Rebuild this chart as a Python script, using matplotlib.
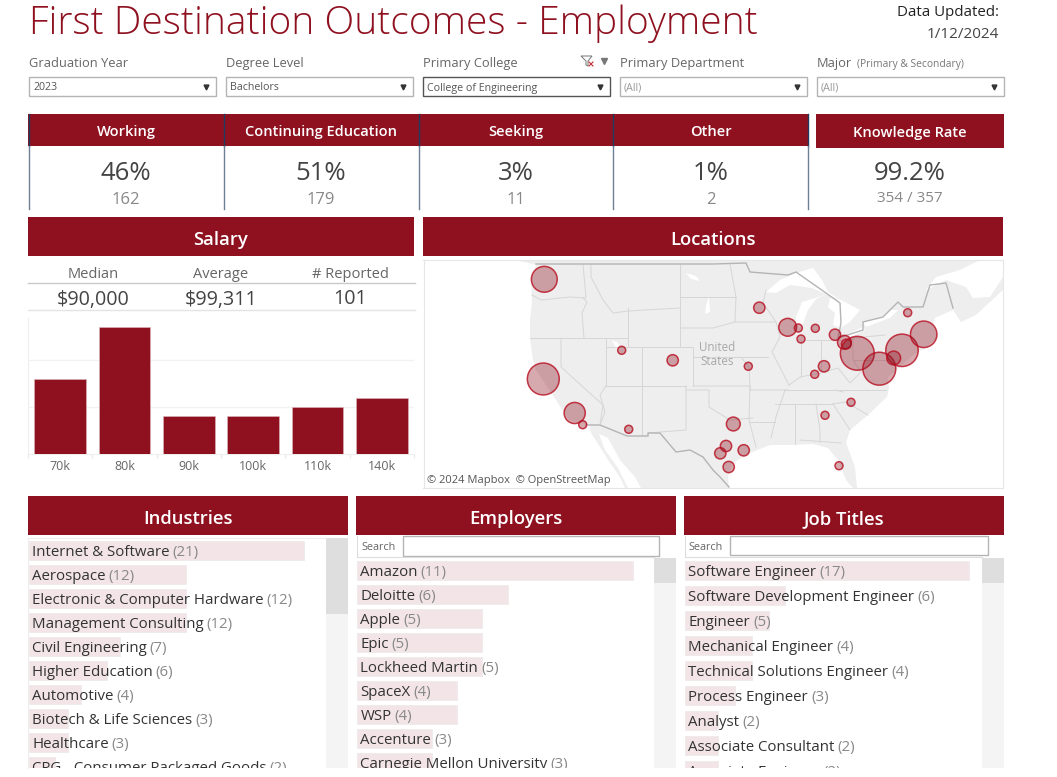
import matplotlib
matplotlib.use("Agg")
import matplotlib.pyplot as plt
from matplotlib.patches import Rectangle, Polygon

plt.rcParams['font.family'] = ['Open Sans', 'DejaVu Sans']

W, H = 1057, 777
RED = '#8f1120'
NAVY = '#1f3a5f'

# ---------- data ----------
title = 'First Destination Outcomes - Employment'
filter_labels = ['Graduation Year', 'Degree Level', 'Primary College', 'Primary Department', 'Major']
filter_values = ['2023', 'Bachelors', 'College of Engineering', '(All)', '(All)']

kpi_names = ['Working', 'Continuing Education', 'Seeking', 'Other']
kpi_pct = ['46%', '51%', '3%', '1%']
kpi_counts = ['162', '179', '11', '2']

salary_heads = ['Median', 'Average', '# Reported']
salary_vals = ['$90,000', '$99,311', '101']

salary_bins = ['70k', '80k', '90k', '100k', '110k', '140k']
salary_pct = [8.0, 13.6, 4.0, 4.0, 5.0, 6.0]

industries = ['Internet & Software', 'Aerospace', 'Electronic & Computer Hardware',
              'Management Consulting', 'Civil Engineering', 'Higher Education',
              'Automotive', 'Biotech & Life Sciences', 'Healthcare',
              'CPG - Consumer Packaged Goods']
industry_counts = [21, 12, 12, 12, 7, 6, 4, 3, 3, 2]

employers = ['Amazon', 'Deloitte', 'Apple', 'Epic', 'Lockheed Martin', 'SpaceX', 'WSP',
             'Accenture', 'Carnegie Mellon University']
employer_counts = [11, 6, 5, 5, 5, 4, 4, 3, 3]

jobs = ['Software Engineer', 'Software Development Engineer', 'Engineer',
        'Mechanical Engineer', 'Technical Solutions Engineer', 'Process Engineer',
        'Analyst', 'Associate Consultant', 'Associate Engineer']
job_counts = [17, 6, 5, 4, 4, 3, 2, 2, 2]

loc_x = [544.3, 543.3, 574.7, 582.7, 621.7, 672.7, 628.7, 759.3, 787.7, 798.3, 801, 815.3,
         835, 844.4, 846.3, 857.3, 879.3, 902, 893.7, 923.7, 907.7, 748.3, 824, 814.7,
         851, 825, 733.3, 726, 720.3, 743.7, 728.7, 839]
loc_y = [279.3, 379, 413, 424.7, 350.3, 360.3, 429.3, 307.7, 327.3, 328, 339, 328.3,
         334.7, 342.3, 344, 353.3, 368.7, 350.3, 358, 334.3, 312.7, 366.3, 366.3, 374.3,
         402.3, 415.3, 424, 446, 453.3, 450.3, 467, 465.7]
loc_n = [10.5, 16, 7, 1, 1, 2, 1, 2, 5, 1, 1, 1,
         2, 3, 1.5, 18, 17, 16.5, 3, 11, 1, 1, 2, 1,
         1, 1, 3, 2, 2, 2, 2, 1]

# base map outlines, in map pixels
land = [(516, 260), (536, 265), (531, 280), (532, 303), (530, 320), (530, 338), (533, 360),
        (536, 370), (556, 400), (569, 420), (589, 425), (591, 433), (600, 447), (610, 463),
        (620, 477), (625, 488), (729, 488), (728, 477), (733, 463), (750, 453), (770, 445),
        (790, 445), (813, 444), (828, 448), (838, 460), (846, 480), (853, 488), (857, 488),
        (855, 467), (846, 443), (850, 430), (868, 415), (887, 397), (889, 388), (888, 377),
        (900, 367), (913, 355), (925, 348), (938, 337), (933, 325), (935, 318), (953, 310),
        (961, 322), (976, 315), (1003, 290), (1003, 260)]
gulf_california = [(599, 434), (608, 438), (620, 460), (635, 477), (641, 488), (628, 488),
                   (618, 468), (605, 450)]
st_lawrence = [(926, 290), (936, 277), (960, 270), (980, 260), (1003, 260), (1003, 277),
               (990, 297), (973, 298), (966, 287), (946, 280)]
superior = [(766, 292), (780, 280), (796, 273), (813, 268), (822, 280), (828, 292), (840, 300),
            (826, 294), (812, 288), (790, 285), (776, 293)]
michigan = [(802, 302), (825, 295), (816, 299), (808, 310), (803, 323), (797, 331), (796, 317), (800, 307)]
huron = [(830, 298), (841, 300), (860, 310), (850, 322), (840, 328), (833, 325), (835, 313), (828, 307)]
erie = [(838, 340), (845, 335), (863, 327), (865, 330), (851, 337), (841, 343)]
ontario = [(863, 322), (880, 318), (891, 310), (898, 310), (890, 318), (866, 327)]
salt_lake = [(612, 340), (618, 343), (620, 350), (616, 348)]
small_water = [(686, 273), (696, 276), (700, 281), (691, 279)]
small_water2 = [(706, 306), (709, 296), (710, 312), (705, 314)]
nations = [
    [(536, 264), (713, 264), (746, 263), (750, 272), (788, 275), (796, 272), (826, 293), (840, 303),
     (841, 323), (838, 338), (863, 330), (863, 322), (883, 317), (898, 302), (903, 307), (923, 307),
     (930, 285), (946, 283), (953, 308)],
    [(586, 425), (600, 425), (627, 436), (648, 436), (648, 433), (660, 433), (676, 452), (690, 450),
     (703, 457), (713, 470), (720, 477), (729, 487)],
]
states = [
    [(532, 295), (541, 300), (570, 297), (586, 298), (583, 264)],
    [(583, 298), (587, 302), (582, 313), (584, 338)],
    [(530, 338), (606, 338), (628, 338)],
    [(628, 308), (628, 347)],
    [(591, 264), (591, 277), (603, 300), (613, 313), (628, 311), (680, 308)],
    [(680, 264), (680, 347)],
    [(680, 297), (713, 297), (736, 297)],
    [(680, 328), (713, 328), (735, 322)],
    [(606, 338), (606, 386)],
    [(606, 347), (693, 347)],
    [(561, 338), (561, 367), (603, 405), (600, 425)],
    [(606, 386), (600, 395), (605, 412), (600, 425)],
    [(606, 386), (686, 386)],
    [(642, 347), (642, 436)],
    [(686, 386), (686, 430), (648, 433)],
    [(693, 347), (693, 386)],
    [(686, 390), (709, 390), (709, 407), (730, 420), (753, 418)],
    [(693, 357), (741, 357), (768, 357)],
    [(693, 386), (750, 386), (749, 420), (756, 447)],
    [(741, 357), (749, 367), (750, 386), (750, 390), (788, 390)],
    [(730, 264), (736, 297), (735, 322), (775, 322)],
    [(766, 290), (763, 303), (776, 322), (780, 337), (772, 352), (789, 385)],
    [(749, 422), (775, 422)],
    [(771, 438), (776, 417), (785, 390)],
    [(795, 404), (795, 444)],
    [(816, 404), (820, 430), (820, 442)],
    [(775, 404), (833, 404)],
    [(785, 390), (886, 390)],
    [(801, 340), (801, 377)],
    [(821, 340), (821, 370)],
    [(806, 340), (841, 340)],
    [(789, 385), (800, 377), (821, 373), (838, 368), (850, 383), (860, 373)],
    [(853, 338), (853, 360), (861, 372)],
    [(853, 360), (890, 360)],
    [(853, 338), (885, 335)],
    [(832, 404), (846, 402), (868, 415)],
    [(833, 404), (850, 430)],
    [(800, 440), (841, 443)],
    [(835, 390), (843, 392)],
]

# ---------- figure ----------
fig = plt.figure(figsize=(W / 100, H / 100), dpi=100, facecolor='white')


def px_axes(x0, y0, x1, y1, **kw):
    return fig.add_axes([x0 / W, 1 - y1 / H, (x1 - x0) / W, (y1 - y0) / H], **kw)


bg = px_axes(0, 0, W, H)
bg.set_xlim(0, W)
bg.set_ylim(H, 0)
bg.axis('off')


def rect(x0, y0, x1, y1, **kw):
    kw.setdefault('lw', 0)
    bg.add_patch(Rectangle((x0, y0), x1 - x0, y1 - y0, **kw))


def txt(x, y, s, size=10, color='#444444', ha='center', va='center_baseline', **kw):
    return bg.text(x, y, s, fontsize=size, color=color, ha=ha, va=va, **kw)


# title
txt(29, 34, title, size=28, color=RED, ha='left', va='baseline', fontweight='light')
txt(999, 10.5, 'Data Updated:', size=10.8, color='#222222', ha='right')
txt(999, 32.5, '1/12/2024', size=11, color='#444444', ha='right')

# filters
filter_x = [29, 226, 423, 620, 817]
for i, (x, lab, val) in enumerate(zip(filter_x, filter_labels, filter_values)):
    txt(x, 62, lab, size=9.3, color='#666666', ha='left')
    if i == 4:
        txt(x + 40, 62.5, '(Primary & Secondary)', size=7.4, color='#777777', ha='left')
    edge = '#555555' if i == 2 else '#b4b4b4'
    rect(x, 77, x + 187, 96, fc='white', ec=edge, lw=1)
    txt(x + 4, 86.5, val, size=7.7, color='#999999' if val == '(All)' else '#555555', ha='left')
    bg.plot([x + 177], [86.5], marker='v', ms=3.5, color='#333333', ls='none')
# cleared-filter icon of Primary College
bg.add_patch(Polygon([(581, 56), (592, 56), (588, 61), (588, 66), (586, 65), (586, 61)],
                     closed=True, fc='white', ec='#777777', lw=0.7))
bg.plot([589, 593], [62, 66], color='#c03030', lw=0.8)
bg.plot([593, 589], [62, 66], color='#c03030', lw=0.8)
bg.plot([603.5], [61], marker='v', ms=5, color='#777777', ls='none')

# KPI strip
rect(28, 114, 808, 146, fc=RED)
kpi_edges = [28.5, 223.5, 418.5, 613, 808]
for x in kpi_edges:
    bg.plot([x, x], [114, 146], color=NAVY, lw=1)
    bg.plot([x, x], [146, 209], color='#6f7f95', lw=1)
for i, (n, p, c) in enumerate(zip(kpi_names, kpi_pct, kpi_counts)):
    cx = (kpi_edges[i] + kpi_edges[i + 1]) / 2
    txt(cx, 130.5, n, size=10.5, color='white', fontweight='semibold')
    txt(cx, 170, p, size=18.5, color='#444444')
    txt(cx, 198, c, size=12, color='#888888')
rect(816, 114, 1004, 148, fc=RED)
txt(910, 132, 'Knowledge Rate', size=10.5, color='white', fontweight='semibold')
txt(910, 170, '99.2%', size=18.5, color='#444444')
txt(910, 197, '354 / 357', size=11, color='#888888')

# section headers
for x0, x1, y0, y1, s in [(28, 414, 217, 256, 'Salary'), (423, 1003, 217, 256, 'Locations'),
                          (28, 348, 496, 535, 'Industries'), (356, 676, 496, 535, 'Employers'),
                          (684, 1004, 496, 535, 'Job Titles')]:
    rect(x0, y0, x1, y1, fc=RED)
    txt((x0 + x1) / 2, (y0 + y1) / 2 + 1.5, s, size=13.3, color='white', fontweight='semibold')

# salary summary
for x, h, v in zip([93, 221, 350], salary_heads, salary_vals):
    txt(x, 272, h, size=10.5, color='#666666')
    txt(x, 297, v, size=14.2, color='#444444')
bg.plot([28, 415], [283, 283], color='#c9c9c9', lw=1)
bg.plot([28, 415], [309.5, 309.5], color='#e4e4e4', lw=1)

# salary bars
ax = px_axes(28, 318, 414, 453.5, facecolor='none')
ax.bar(range(len(salary_bins)), salary_pct, width=0.8, color=RED, edgecolor='#dfb9be', linewidth=0.4, zorder=3)
ax.set_xlim(-0.5, len(salary_bins) - 0.5)
ax.set_ylim(0, 14.55)
ax.set_yticks([5, 10])
ax.set_yticklabels([])
ax.set_xticks(range(len(salary_bins)))
ax.set_xticklabels(salary_bins, fontsize=9, color='#666666')
ax.set_xticks([i - 0.5 for i in range(len(salary_bins) + 1)], minor=True)
ax.tick_params(axis='x', which='major', length=0, pad=5)
ax.tick_params(axis='x', which='minor', length=3, color='#ececec', width=1)
ax.tick_params(axis='y', length=0)
ax.grid(axis='y', color='#f2f2f2', lw=1, zorder=0)
for sp in ['top', 'right']:
    ax.spines[sp].set_visible(False)
for sp in ['left', 'bottom']:
    ax.spines[sp].set_color('#eeeeee')

# map
m = px_axes(423.5, 260, 1003.5, 488, facecolor='white')
m.set_xlim(423.5, 1003.5)
m.set_ylim(488, 260)
m.set_xticks([])
m.set_yticks([])
for sp in m.spines.values():
    sp.set_color('#e6e6e6')
m.add_patch(Polygon(land, closed=True, fc='#eeeeee', ec='none', zorder=1))
for shape in [gulf_california, st_lawrence, superior, michigan, huron, erie, ontario,
              salt_lake, small_water, small_water2]:
    m.add_patch(Polygon(shape, closed=True, fc='white', ec='none', zorder=2))
for line in states:
    m.plot(*zip(*line), color='#d6d6d6', lw=0.7, zorder=3)
for line in nations:
    m.plot(*zip(*line), color='#b4b4b4', lw=1.0, zorder=3)
m.text(717.5, 346, 'United', fontsize=8.4, color='#a8a8a8', ha='center', va='center_baseline', zorder=4)
m.text(717.5, 359.5, 'States', fontsize=8.4, color='#a8a8a8', ha='center', va='center_baseline', zorder=4)
m.scatter(loc_x, loc_y, s=[n * 33 for n in loc_n], facecolor=(0.56, 0.07, 0.13, 0.36),
          edgecolor=(0.72, 0.05, 0.12, 0.8), linewidth=1.1, zorder=5)
m.text(427.5, 479, '\u00a9 2024 Mapbox  \u00a9 OpenStreetMap', fontsize=8, color='#555555', ha='left',
       va='center_baseline', zorder=6, bbox=dict(fc='white', ec='none', alpha=0.8, pad=1.5))


# ranked lists
def ranked(names, counts, x0, x1, top, first, pitch, bar_end, barh=0.8):
    a = px_axes(x0, top, x1, 768, facecolor='none')
    a.barh(range(len(names)), counts, height=barh, color='#f3e5e7', edgecolor='#efeaea', linewidth=0.6)
    a.set_xlim(0, counts[0] * (x1 - x0) / (bar_end - x0))
    a.set_ylim((768 - first) / pitch, (top - first) / pitch)
    a.axis('off')
    for i, (n, c) in enumerate(zip(names, counts)):
        t = a.text(3.5 / (x1 - x0), i, n, transform=a.get_yaxis_transform(), fontsize=10.8,
                   color='#333333', ha='left', va='center_baseline', clip_on=True)
        a.annotate(f'({c})', xy=(1, 0.5), xycoords=t, xytext=(2, 0), textcoords='offset points',
                   fontsize=10.8, color='#888888', ha='left', va='center', clip_on=True,
                   annotation_clip=False)
    return a


ranked(industries, industry_counts, 28.5, 326, 538, 550.5, 24, 304)
ranked(employers, employer_counts, 357, 654, 558, 570.5, 24, 633)
ranked(jobs, job_counts, 685, 982, 558, 570.5, 25, 969, barh=0.78)

# scroll bars
for x0, x1, y0, y1 in [(326, 348, 538, 614), (654, 676, 558, 583), (982, 1004, 558, 583)]:
    rect(x0, y0, x1, 768, fc='#f4f4f4')
    rect(x0, y0, x1, y1, fc='#dedede')
bg.plot([28, 326], [538, 538], color='#eeeeee', lw=0.8)
bg.plot([28, 28], [538, 768], color='#eeeeee', lw=0.8)

# search boxes
for tx, bx0, bx1, y0, y1, lx0, lx1 in [(361, 403, 659, 536, 555.5, 357, 654),
                                       (688, 730, 988, 536, 554.5, 685, 982)]:
    txt(tx, 545.5, 'Search', size=7.8, color='#666666', ha='left')
    rect(bx0, y0, bx1, y1, fc='white', ec='#b4b4b4', lw=1)
    bg.plot([lx0, lx1], [557, 557], color='#dddddd', lw=0.8)
    bg.plot([lx0, lx0], [536, 557], color='#dddddd', lw=0.8)

fig.savefig('out.png', dpi=100, facecolor='white')
